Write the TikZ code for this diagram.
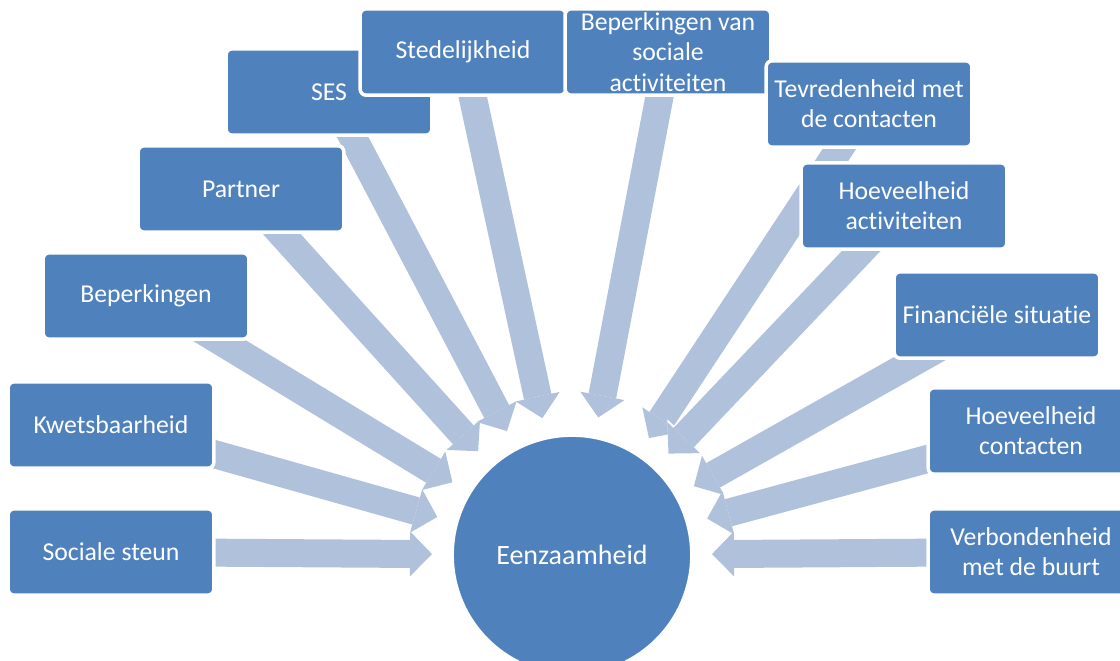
\documentclass[tikz,border=0pt]{standalone}
\usepackage{fontspec}
\setmainfont{Carlito}[Ligatures=NoCommon]
\usetikzlibrary{arrows.meta, backgrounds}
\definecolor{boxblue}{RGB}{79,129,189}
\definecolor{arrowblue}{RGB}{176,193,220}

\begin{document}
\begin{tikzpicture}[x=0.025cm, y=-0.025cm,
        factor/.style={rectangle, rounded corners=0.15cm, draw=white, line width=0.0875cm, fill=boxblue, text=white, minimum width=5.14cm, minimum height=2.16cm, inner sep=1pt, align=center, font=\fontsize{18.3}{21.5}\selectfont},
        core/.style={circle, draw=white, line width=0.0875cm, fill=boxblue, text=white, minimum size=5.99cm, inner sep=0pt, font=\fontsize{19.9}{23}\selectfont},
        line/.style={arrowblue, line width=0.7cm, shorten >=0.46cm, -{Triangle[width=1.125cm, length=0.55cm, line width=0pt]},
            preaction={draw=white, line width=0.76cm, -{Triangle[width=1.22cm, length=0.6cm, line width=0pt]}}}
    ]
    \useasboundingbox (0,0) rectangle (1120,661);
    \clip (0,0) rectangle (1120,661);
    \node[core] (circ) at (572,555) {Eenzaamheid};
    \node[factor] (soc) at (111,552) {Sociale steun};
    \node[factor] (kwe) at (111,425) {Kwetsbaarheid};
    \node[factor] (bep) at (146,296) {Beperkingen};
    \node[factor] (par) at (241,189) {Partner};
    \node[factor] (ses) at (329,92) {SES};
    \node[factor] (ste) at (463,52) {Stedelijkheid};
    \node[factor] (bsa) at (668,52) {Beperkingen van\\sociale\\activiteiten};
    \node[factor] (tev) at (869,104) {Tevredenheid met\\de contacten};
    \node[factor] (hac) at (904,206) {Hoeveelheid\\activiteiten};
    \node[factor] (fin) at (997,315) {Financiële situatie};
    \node[factor] (hco) at (1031,431) {Hoeveelheid\\contacten};
    \node[factor] (ver) at (1031,552) {Verbondenheid\\met de buurt};
    \begin{scope}[on background layer]
        \foreach \src in {soc,kwe,bep,par,ses,ste,bsa,tev,hac,fin,hco,ver}
            \draw[line] (\src.center) -- (circ);
    \end{scope}
\end{tikzpicture}
\end{document}
